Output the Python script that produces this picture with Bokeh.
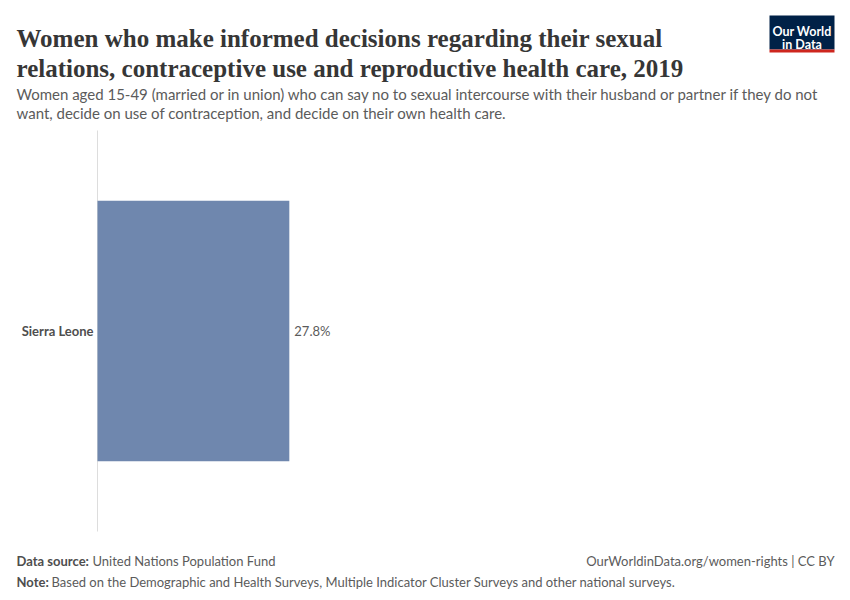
from bokeh.plotting import figure
from bokeh.models import Range1d, ColumnDataSource
from bokeh.core.properties import value
from bokeh.embed import file_html
from bokeh.resources import INLINE

# ---- data ----
countries = ["Sierra Leone"]
values = [27.8]
value_labels = [f"{v:.1f}%" for v in values]

title_lines = [
    "Women who make informed decisions regarding their sexual",
    "relations, contraceptive use and reproductive health care, 2019",
]
subtitle_lines = [
    "Women aged 15-49 (married or in union) who can say no to sexual intercourse with their husband or partner if they do not",
    "want, decide on use of contraception, and decide on their own health care.",
]
source_bold = "Data source:"
source_text = "United Nations Population Fund"
note_bold = "Note:"
note_text = "Based on the Demographic and Health Surveys, Multiple Indicator Cluster Surveys and other national surveys."
url_text = "OurWorldinData.org/women-rights | CC BY"
logo_lines = ["Our World", "in Data"]

# ---- layout (page pixels) ----
W, H = 842, 592
X0_PX, X100_PX = 97, 787        # where 0 % and 100 % fall
BAND_TOP, BAND_BOT = 130, 531   # chart band (axis line extent)

ux = (X100_PX - X0_PX) / 100.0
x_start = -X0_PX / ux
x_end = (W - X0_PX) / ux
n = len(countries)
uy = (BAND_BOT - BAND_TOP) / n
y_start = -0.5 - (H - BAND_BOT) / uy
y_end = n - 0.5 + BAND_TOP / uy

p = figure(
    width=W, height=H,
    x_range=Range1d(x_start, x_end), y_range=Range1d(y_start, y_end),
    output_backend="svg", toolbar_location=None,
    min_border=0,
)
p.extra_x_ranges = {"px": Range1d(0, W)}
p.extra_y_ranges = {"px": Range1d(H, 0)}
p.outline_line_color = None
p.background_fill_color = "white"
p.border_fill_color = "white"
p.grid.visible = False
p.axis.visible = False

# rows: first country at top
ypos = [n - 1 - i for i in range(n)]
src = ColumnDataSource(dict(country=countries, val=values, lab=value_labels, y=ypos,
                            zero=[0] * n))

# axis line
p.segment(x0=0, x1=0, y0=-0.5, y1=n - 0.5, line_color="#dddddd", line_width=1)

p.hbar(y="y", left=0, right="val", height=0.65, source=src,
       fill_color="#6f87ae", line_color=None)
p.text(x="val", y="y", text="lab", source=src, x_offset=5,
       text_baseline="middle", text_align="left",
       text_font=value("Lato"), text_font_size="13px", text_color="#5b5b5b")
p.text(x="zero", y="y", text="country", source=src, x_offset=-4,
       text_baseline="middle", text_align="right",
       text_font=value("Lato"), text_font_style="bold", text_font_size="13px",
       text_color="#4e4e4e")

SERIF = "Liberation Serif"


def add_text(text, px, py, size, color, font="Lato", style="normal", align="left"):
    p.text(x=[px], y=[py], text=[text], x_range_name="px", y_range_name="px",
           text_font=value(font), text_font_size=size, text_color=color,
           text_font_style=style, text_align=align, text_baseline="alphabetic")


# logo
p.quad(left=[769], right=[834], top=[15], bottom=[49], x_range_name="px", y_range_name="px",
       fill_color="#002147", line_color=None)
p.quad(left=[769], right=[834], top=[49], bottom=[52], x_range_name="px", y_range_name="px",
       fill_color="#ce261e", line_color=None)
add_text(logo_lines[0], 801.5, 31, "12.5px", "white", style="bold", align="center")
add_text(logo_lines[1], 801.5, 44, "12.5px", "white", style="bold", align="center")

# title
add_text(title_lines[0], 16, 38, "25px", "#363636", font=SERIF, style="bold")
add_text(title_lines[1], 16, 68, "25px", "#363636", font=SERIF, style="bold")
# subtitle
add_text(subtitle_lines[0], 16, 93, "15px", "#5b5b5b")
add_text(subtitle_lines[1], 16, 112, "15px", "#5b5b5b")
# footer
add_text(source_bold, 16, 560, "13px", "#4e4e4e", style="bold")
add_text(source_text, 92, 560, "13px", "#5b5b5b")
add_text(url_text, 834, 560, "13px", "#5b5b5b", align="right")
add_text(note_bold, 16, 581, "13px", "#4e4e4e", style="bold")
add_text(note_text, 51, 581, "13px", "#5b5b5b")

open("out.html", "w").write(file_html(p, INLINE))
